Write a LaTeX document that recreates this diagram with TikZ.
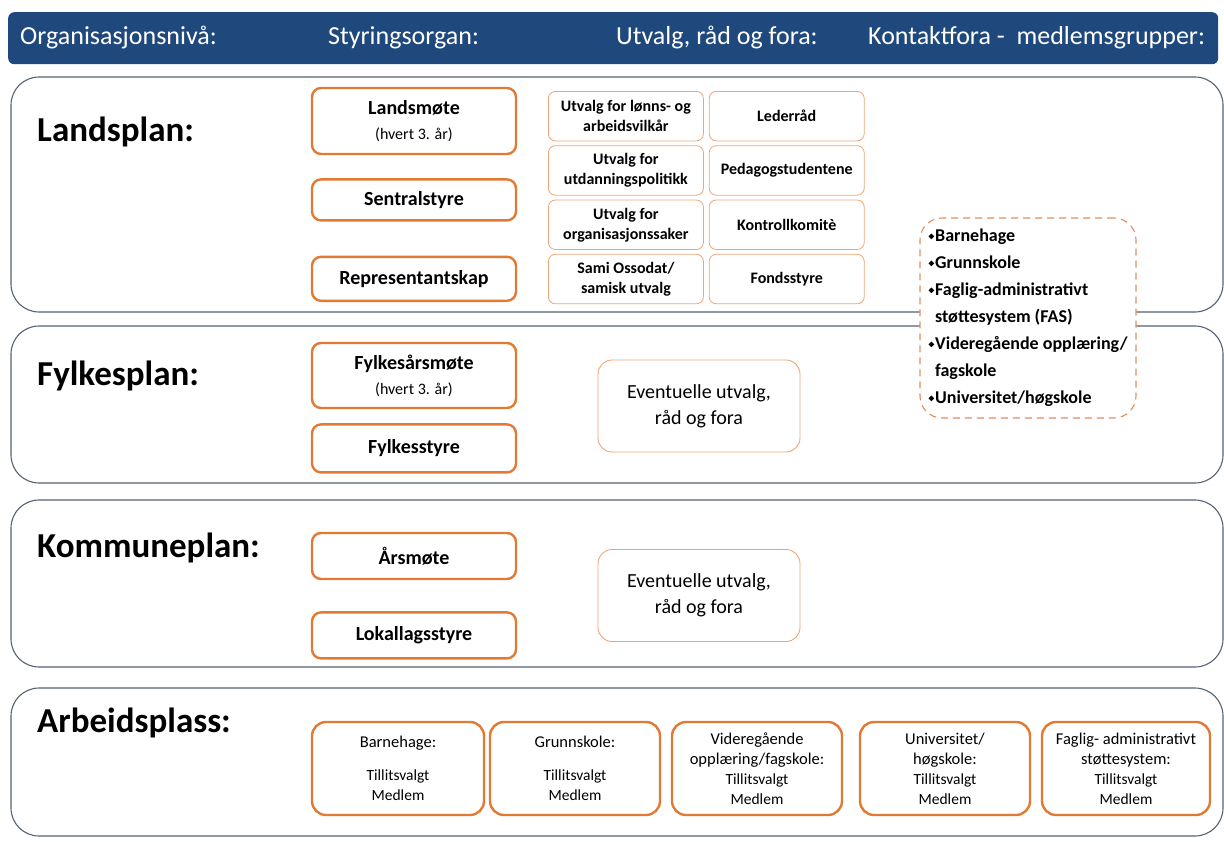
\documentclass[tikz,border=0pt]{standalone}
\usepackage{fontspec}
\setmainfont{Carlito}
\usepackage{graphicx}
\usepackage{tikz}
\usetikzlibrary{positioning}
\usepackage{color}
\definecolor{hdblue}{RGB}{31,73,125}
\definecolor{panelc}{RGB}{84,98,114}
\definecolor{orthick}{RGB}{226,122,52}
\definecolor{orthin}{RGB}{238,164,118}
\definecolor{ordash}{RGB}{228,140,92}
\newcommand{\bul}{\raisebox{.3ex}{\rotatebox{45}{\rule{4pt}{4pt}}}\hspace{1pt}}

\begin{document}
\begin{tikzpicture}[x=1pt, y=-1pt,
                    hd/.style={text=white, inner sep=0pt, font=\fontsize{26}{31}\selectfont},
                    niva/.style={rectangle, rounded corners=28pt, draw=panelc, line width=1.1pt, minimum width=1212pt},
                    lvl/.style={inner sep=0pt, anchor=base west, font=\fontsize{35}{41}\selectfont\bfseries},
                    styre/.style={rectangle, rounded corners=9pt, draw=orthick, line width=2.4pt, fill=white, minimum width=204pt, align=center, font=\fontsize{20}{24}\selectfont\bfseries},
                    utv/.style={rectangle, rounded corners=7pt, draw=orthin, line width=0.8pt, minimum width=155pt, minimum height=49.5pt, inner sep=1pt, align=center, font=\fontsize{16}{20}\selectfont\bfseries},
                    evt/.style={rectangle, rounded corners=14pt, draw=orthin, line width=0.9pt, minimum width=202pt, minimum height=92pt, align=center, font=\fontsize{20}{26}\selectfont},
                    arb/.style={rectangle, rounded corners=14pt, draw=orthick, line width=2.4pt, minimum height=93pt, inner sep=2pt, align=center, font=\fontsize{15.5}{20}\selectfont}]
\useasboundingbox (0,0) rectangle (1224,841);
\node (head) [rectangle, rounded corners=6pt, fill=hdblue, minimum width=1210pt, minimum height=52pt, anchor=north west] at (8,12) {};
\node (h1) [hd, anchor=west] at (20,38) {Organisasjonsnivå:};
\node (h2) [hd, anchor=west] at (328,38) {Styringsorgan:};
\node (h3) [hd, anchor=west] at (616,38) {Utvalg, råd og fora:};
\node (h4) [hd, anchor=west] at (868,38) {Kontaktfora -~ medlemsgrupper:};
\node (landsp) [niva, minimum height=235pt] at (617,194.5) {};
\node (fylkesp) [niva, minimum height=157pt] at (617,404.5) {};
\node (kommunep) [niva, minimum height=167pt] at (617,583.5) {};
\node (arbeidsp) [niva, minimum height=148pt] at (617,762) {};
\node (l1) [lvl] at (37,141) {Landsplan:};
\node (l2) [lvl] at (37,385) {Fylkesplan:};
\node (l3) [lvl] at (37,557) {Kommuneplan:};
\node (l4) [lvl] at (37,732) {Arbeidsplass:};
\node (lmote) [styre, minimum height=66pt] at (414,121) {Landsmøte\\[1pt]{\mdseries\fontsize{16}{19}\selectfont(hvert 3. år)}};
\node (sstyre) [styre, minimum height=41pt, below=23pt of lmote] {Sentralstyre};
\node (repr) [styre, minimum height=44pt, below=34pt of sstyre] {Representantskap};
\node (fmote) [styre, minimum height=65pt] at (414,375.5) {Fylkesårsmøte\\[1pt]{\mdseries\fontsize{16}{19}\selectfont(hvert 3. år)}};
\node (fstyre) [styre, minimum height=48pt, below=14pt of fmote] {Fylkesstyre};
\node (amote) [styre, minimum height=46pt] at (414,556) {Årsmøte};
\node (llstyre) [styre, minimum height=46pt, below=31pt of amote] {Lokallagsstyre};
\node (u1) [utv, anchor=north west] at (548,91) {Utvalg for lønns- og\\arbeidsvilkår};
\node (u2) [utv, below=4pt of u1] {Utvalg for\\utdanningspolitikk};
\node (u3) [utv, below=4pt of u2] {Utvalg for\\organisasjonssaker};
\node (u4) [utv, below=4pt of u3] {Sami Ossodat/\\samisk utvalg};
\node (r1) [utv, right=5pt of u1] {Lederråd};
\node (r2) [utv, right=5pt of u2] {Pedagogstudentene};
\node (r3) [utv, right=5pt of u3] {Kontrollkomitè};
\node (r4) [utv, right=5pt of u4] {Fondsstyre};
\node (evtf) [evt] at (699,406) {Eventuelle utvalg,\\råd og fora};
\node (evtk) [evt] at (699,595.5) {Eventuelle utvalg,\\råd og fora};
\node (a1) [arb, minimum width=172pt] at (398,768.5) {{\fontsize{16.5}{20}\selectfont Barnehage:}\\[13pt]Tillitsvalgt\\Medlem};
\node (a2) [arb, minimum width=170pt] at (575,768.5) {{\fontsize{16.5}{20}\selectfont Grunnskole:}\\[13pt]Tillitsvalgt\\Medlem};
\node (a3) [arb, minimum width=170pt] at (757,768.5) {\fontsize{16.5}{20}\selectfont Videregående\\\fontsize{16.5}{20}\selectfont opplæring/fagskole:\\\fontsize{15.5}{20}\selectfont Tillitsvalgt\\Medlem};
\node (a4) [arb, minimum width=170pt] at (945,768.5) {\fontsize{16.5}{20}\selectfont Universitet/\\\fontsize{16.5}{20}\selectfont høgskole:\\\fontsize{15.5}{20}\selectfont Tillitsvalgt\\Medlem};
\node (a5) [arb, minimum width=168pt] at (1126,768.5) {\fontsize{16.5}{20}\selectfont Faglig- administrativt\\\fontsize{16.5}{20}\selectfont støttesystem:\\\fontsize{15.5}{20}\selectfont Tillitsvalgt\\Medlem};
\node (kontakt) [rectangle, rounded corners=22pt, draw=ordash, dash pattern=on 7pt off 5pt, line width=1.1pt, fill=white, minimum width=216pt, minimum height=200pt, align=left, font=\fontsize{18}{27}\selectfont\bfseries] at (1028,318)
{\bul Barnehage\\\bul Grunnskole\\\bul Faglig-administrativt\\\phantom{\bul}støttesystem (FAS)\\\bul Videregående opplæring/\\\phantom{\bul}fagskole\\\bul Universitet/høgskole};
\end{tikzpicture}
\end{document}
